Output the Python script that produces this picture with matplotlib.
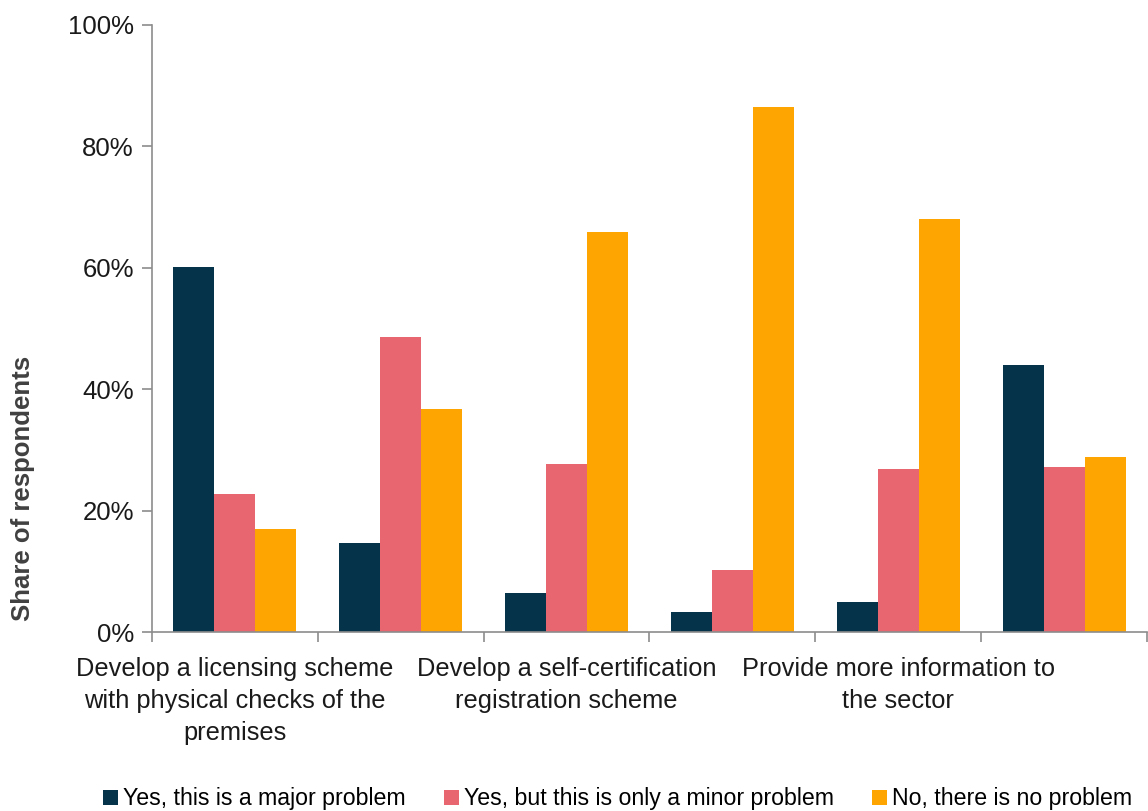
import matplotlib
matplotlib.use("Agg")
import matplotlib.pyplot as plt
import numpy as np
from matplotlib.ticker import FixedLocator, PercentFormatter

# Survey responses per option (share of respondents, %)
categories = [
    "Develop a licensing scheme\nwith physical checks of the\npremises",
    "",
    "Develop a self-certification\nregistration scheme",
    "",
    "Provide more information to\nthe sector",
    "",
]
series_names = [
    "Yes, this is a major problem",
    "Yes, but this is only a minor problem",
    "No, there is no problem",
]
major = [60.1, 14.7, 6.4, 3.3, 4.9, 44.0]
minor = [22.7, 48.6, 27.7, 10.2, 26.9, 27.2]
none_ = [17.0, 36.7, 65.9, 86.5, 68.0, 28.8]
colors = ["#05334A", "#E8666F", "#FFA502"]
y_ticks = [0, 20, 40, 60, 80, 100]

plt.rcParams["font.family"] = ["Liberation Sans", "DejaVu Sans"]

fig = plt.figure(figsize=(11.48, 8.11), dpi=100)
ax = fig.add_axes([152 / 1148, 1 - 632 / 811, (1147 - 152) / 1148, (632 - 25) / 811])

x = np.arange(len(categories))
bw = 0.247
handles = []
for i, (vals, name, c) in enumerate(zip([major, minor, none_], series_names, colors)):
    h = ax.bar(x + (i - 1) * bw, vals, width=bw, color=c, label=name, zorder=2)
    handles.append(h)

ax.set_xlim(-0.5, len(categories) - 0.5)
ax.set_ylim(0, 100)
ax.yaxis.set_major_locator(FixedLocator(y_ticks))
ax.yaxis.set_major_formatter(PercentFormatter(decimals=0))

# category boundaries carry the tick marks, centers carry the labels
ax.xaxis.set_major_locator(FixedLocator(np.arange(-0.5, len(categories), 1.0)))
ax.set_xticklabels([])
ax.xaxis.set_minor_locator(FixedLocator(x))
ax.set_xticklabels(categories, minor=True)
ax.tick_params(axis="x", which="minor", length=0, pad=18, labelsize=18.3, labelcolor="#1a1a1a")
ax.tick_params(axis="x", which="major", length=7, color="#8c8c8c", width=1.2)
ax.tick_params(axis="y", length=7, color="#8c8c8c", width=1.2, labelsize=18.5, labelcolor="#1a1a1a", pad=6)
for lbl in ax.get_xticklabels(minor=True):
    lbl.set_linespacing(1.43)

for s in ["top", "right"]:
    ax.spines[s].set_visible(False)
for s in ["left", "bottom"]:
    ax.spines[s].set_color("#8c8c8c")
    ax.spines[s].set_linewidth(1.2)

ax.set_ylabel("Share of respondents", fontsize=18.5, fontweight="bold", color="#404040")
ax.yaxis.set_label_coords(-0.118, 0.237)

fig.legend(handles=handles, labels=series_names, loc="lower center",
           bbox_to_anchor=(0.538, -0.025), ncol=3, frameon=False,
           fontsize=16.7, handlelength=0.65, handleheight=0.65, handletextpad=0.2,
           columnspacing=1.65)

fig.savefig("out.png", dpi=100)
